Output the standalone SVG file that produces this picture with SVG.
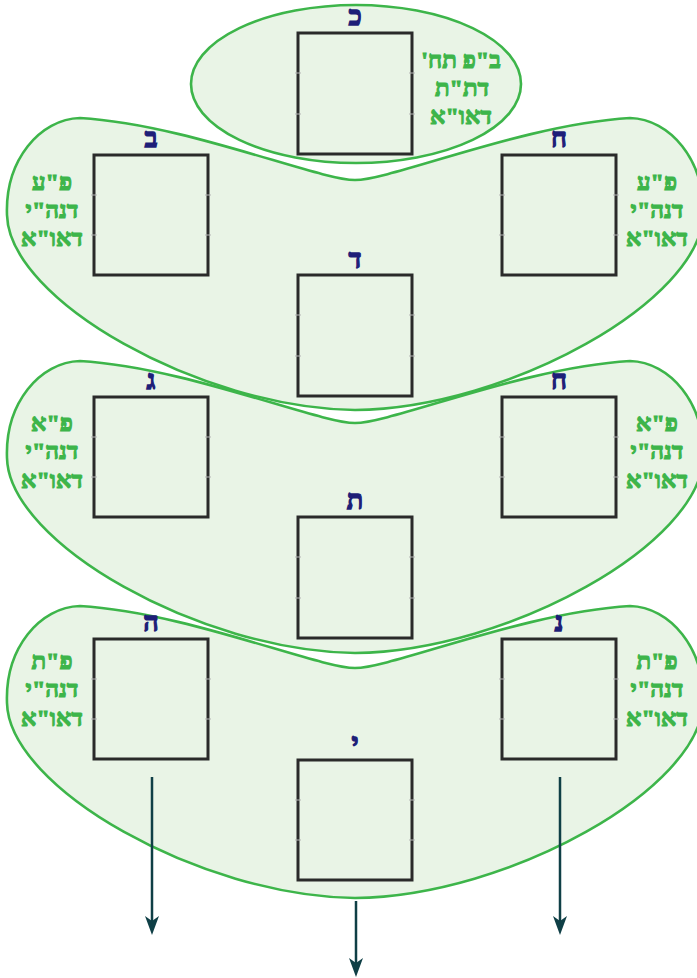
<svg xmlns="http://www.w3.org/2000/svg" xmlns:xlink="http://www.w3.org/1999/xlink" width="697" height="978" viewBox="0 0 697 978">
<style>
.region{fill:#e9f4e6;stroke:none}
.outline{fill:none;stroke:#3db54a;stroke-width:2.6}
.box{fill:none;stroke:#2a2a2a;stroke-width:3}
.tick{stroke:#b5b5b5;stroke-width:1}
.head{font-family:"Liberation Serif","DejaVu Sans",serif;font-weight:bold;font-size:27px;fill:#1e1e78;stroke:#1e1e78;stroke-width:1.3;text-anchor:middle}
.lbl{font-family:"Liberation Serif","DejaVu Sans",serif;font-weight:bold;font-size:24px;fill:#3db54a;stroke:#3db54a;stroke-width:1.1;text-anchor:middle}
.arrow{stroke:#0f3f46;stroke-width:2.5;fill:none;marker-end:url(#ah)}
</style>
<defs>
<path id="heart" d="M355,180 C318,180 185,124 80,118 C40,119 5,160 7,215 C9,300 200,408 355,410 C510,408 701,300 703,215 C705,160 670,119 630,118 C525,124 392,180 355,180 Z"/>
<marker id="ah" viewBox="-1 -8 21 16" markerWidth="21" markerHeight="16" refX="8" refY="0" orient="auto" markerUnits="userSpaceOnUse">
<path d="M0,-7 L19,0 L0,7 L5,0 Z" fill="#0f3f46"/>
</marker>
</defs>

<g id="fills">
<ellipse class="region" cx="356" cy="84" rx="165" ry="79"/>
<use xlink:href="#heart" class="region"/>
<use xlink:href="#heart" class="region" transform="translate(0,243)"/>
<use xlink:href="#heart" class="region" transform="translate(0,488)"/>
</g>

<g id="group-top">
<ellipse class="outline" cx="356" cy="84" rx="165" ry="79"/>
<text class="lbl" x="461" y="68" direction="rtl" unicode-bidi="embed">ב"פ תח'</text>
<text class="lbl" x="462" y="96" direction="rtl" unicode-bidi="embed">דת"ת</text>
<text class="lbl" x="461" y="124" direction="rtl" unicode-bidi="embed">דאו"א</text>
</g>
<g id="group-1">
<use xlink:href="#heart" class="outline"/>
<text class="lbl" x="52" y="190" direction="rtl" unicode-bidi="embed">פ"ע</text>
<text class="lbl" x="52" y="218" direction="rtl" unicode-bidi="embed">דנה"י</text>
<text class="lbl" x="52" y="246" direction="rtl" unicode-bidi="embed">דאו"א</text>
<text class="lbl" x="657" y="190" direction="rtl" unicode-bidi="embed">פ"ע</text>
<text class="lbl" x="657" y="218" direction="rtl" unicode-bidi="embed">דנה"י</text>
<text class="lbl" x="657" y="246" direction="rtl" unicode-bidi="embed">דאו"א</text>
</g>
<g id="group-2">
<use xlink:href="#heart" class="outline" transform="translate(0,243)"/>
<text class="lbl" x="52" y="431" direction="rtl" unicode-bidi="embed">פ"א</text>
<text class="lbl" x="52" y="459" direction="rtl" unicode-bidi="embed">דנה"י</text>
<text class="lbl" x="52" y="488" direction="rtl" unicode-bidi="embed">דאו"א</text>
<text class="lbl" x="657" y="431" direction="rtl" unicode-bidi="embed">פ"א</text>
<text class="lbl" x="657" y="459" direction="rtl" unicode-bidi="embed">דנה"י</text>
<text class="lbl" x="657" y="488" direction="rtl" unicode-bidi="embed">דאו"א</text>
</g>
<g id="group-3">
<use xlink:href="#heart" class="outline" transform="translate(0,488)"/>
<text class="lbl" x="52" y="669" direction="rtl" unicode-bidi="embed">פ"ת</text>
<text class="lbl" x="52" y="697" direction="rtl" unicode-bidi="embed">דנה"י</text>
<text class="lbl" x="52" y="726" direction="rtl" unicode-bidi="embed">דאו"א</text>
<text class="lbl" x="657" y="669" direction="rtl" unicode-bidi="embed">פ"ת</text>
<text class="lbl" x="657" y="697" direction="rtl" unicode-bidi="embed">דנה"י</text>
<text class="lbl" x="657" y="726" direction="rtl" unicode-bidi="embed">דאו"א</text>
</g>

<g id="node-kaf">
<rect class="box" x="298" y="33" width="114" height="121"/>
<path class="tick" d="M295,73h6M409,73h6M295,114h6M409,114h6"/>
<text class="head" x="355" y="25">כ</text>
</g>
<g id="node-bet">
<rect class="box" x="94" y="155" width="114" height="120"/>
<path class="tick" d="M91,195h6M205,195h6M91,235h6M205,235h6"/>
<text class="head" x="151" y="147">ב</text>
</g>
<g id="node-chet1">
<rect class="box" x="502" y="155" width="114" height="120"/>
<path class="tick" d="M499,195h6M613,195h6M499,235h6M613,235h6"/>
<text class="head" x="559" y="147">ח</text>
</g>
<g id="node-dalet">
<rect class="box" x="298" y="275" width="114" height="121"/>
<path class="tick" d="M295,315h6M409,315h6M295,356h6M409,356h6"/>
<text class="head" x="355" y="268">ד</text>
</g>
<g id="node-gimel">
<rect class="box" x="94" y="397" width="114" height="120"/>
<path class="tick" d="M91,437h6M205,437h6M91,477h6M205,477h6"/>
<text class="head" x="151" y="389">ג</text>
</g>
<g id="node-chet2">
<rect class="box" x="502" y="397" width="114" height="120"/>
<path class="tick" d="M499,437h6M613,437h6M499,477h6M613,477h6"/>
<text class="head" x="559" y="389">ח</text>
</g>
<g id="node-tav">
<rect class="box" x="298" y="517" width="114" height="121"/>
<path class="tick" d="M295,557h6M409,557h6M295,598h6M409,598h6"/>
<text class="head" x="355" y="509">ת</text>
</g>
<g id="node-he">
<rect class="box" x="94" y="639" width="114" height="120"/>
<path class="tick" d="M91,679h6M205,679h6M91,719h6M205,719h6"/>
<text class="head" x="151" y="631">ה</text>
</g>
<g id="node-nun">
<rect class="box" x="502" y="639" width="114" height="120"/>
<path class="tick" d="M499,679h6M613,679h6M499,719h6M613,719h6"/>
<text class="head" x="559" y="631">נ</text>
</g>
<g id="node-yod">
<rect class="box" x="298" y="760" width="114" height="120"/>
<path class="tick" d="M295,800h6M409,800h6M295,840h6M409,840h6"/>
<text class="head" x="355" y="752">י</text>
</g>

<g id="connectors">
<line class="arrow" x1="152" y1="777" x2="152" y2="924"/>
<line class="arrow" x1="560" y1="777" x2="560" y2="924"/>
<line class="arrow" x1="356" y1="901" x2="356" y2="966"/>
</g>
</svg>
